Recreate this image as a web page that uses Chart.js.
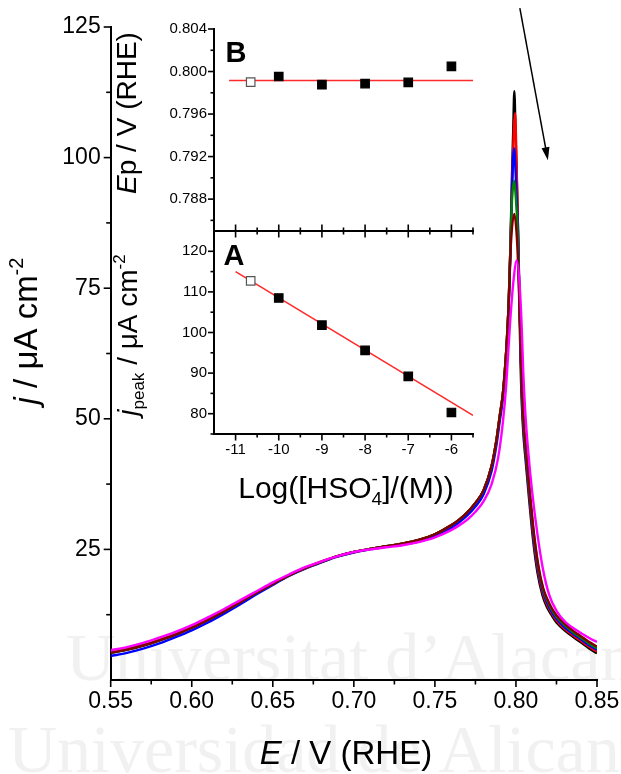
<!DOCTYPE html>
<html>
<head>
<meta charset="utf-8">
<script src="https://cdn.jsdelivr.net/npm/chart.js@4.4.1/dist/chart.umd.min.js"></script>
<style>
  html,body{margin:0;padding:0;background:#fff;}
  #wrap{position:relative;width:621px;height:774px;overflow:hidden;}
  #wrap canvas{position:absolute;left:0;top:0;}
</style>
</head>
<body>
<div id="wrap">
  <canvas id="cvMain" width="621" height="774"></canvas>
  <canvas id="cvB" width="621" height="774"></canvas>
  <canvas id="cvA" width="621" height="774"></canvas>
</div>
<script>
/* ================= DATA ================= */
// voltammograms [E / V (RHE), j / uA cm-2], one per HSO4- concentration
const cvBlack = [[0.55,5.2],[0.56,5.8],[0.57,6.6],[0.58,7.6],[0.59,8.7],[0.60,10.0],[0.61,11.5],[0.62,13.1],[0.63,14.9],[0.64,16.7],[0.65,18.4],[0.66,20.0],[0.67,21.4],[0.68,22.6],[0.69,23.7],[0.70,24.5],[0.71,25.1],[0.72,25.6],[0.73,26.1],[0.74,26.8],[0.75,27.9],[0.76,29.6],[0.765,30.7],[0.77,32.1],[0.775,33.9],[0.78,36.3],[0.785,41.0],[0.788,46.0],[0.790,50.5],[0.792,55.0],[0.794,63.0],[0.7955,72.0],[0.7965,82.0],[0.7975,96.0],[0.7983,105.0],[0.7990,112.7],[0.7998,104.0],[0.8006,95.0],[0.8013,86.0],[0.8020,74.0],[0.8028,61.0],[0.8036,53.0],[0.8046,47.0],[0.8060,42.0],[0.8080,35.0],[0.8105,27.0],[0.8133,20.5],[0.8163,16.3],[0.819,14.0],[0.822,12.4],[0.825,11.0],[0.830,9.5],[0.835,8.3],[0.840,7.2],[0.845,6.1],[0.850,5.1]];
const cvRed = [[0.55,5.3],[0.56,5.9],[0.57,6.7],[0.58,7.7],[0.59,8.8],[0.60,10.1],[0.61,11.6],[0.62,13.2],[0.63,15.0],[0.64,16.8],[0.65,18.5],[0.66,20.1],[0.67,21.5],[0.68,22.7],[0.69,23.7],[0.70,24.5],[0.71,25.1],[0.72,25.6],[0.73,26.1],[0.74,26.8],[0.75,27.9],[0.76,29.6],[0.765,30.7],[0.77,32.1],[0.775,33.9],[0.78,36.3],[0.785,41.0],[0.788,46.0],[0.790,50.5],[0.792,55.0],[0.794,63.0],[0.7955,72.0],[0.7965,82.0],[0.7978,97.0],[0.7995,108.5],[0.8003,100.0],[0.8010,90.0],[0.8017,80.0],[0.8024,70.0],[0.8030,61.5],[0.8038,53.5],[0.8048,47.5],[0.8062,42.5],[0.8082,35.5],[0.8107,27.5],[0.8135,21.0],[0.8165,16.7],[0.8192,14.4],[0.822,12.8],[0.825,11.4],[0.830,9.8],[0.835,8.6],[0.840,7.5],[0.845,6.4],[0.850,5.4]];
const cvBlue = [[0.55,4.6],[0.56,5.2],[0.57,6.0],[0.58,7.0],[0.59,8.2],[0.60,9.5],[0.61,11.0],[0.62,12.7],[0.63,14.5],[0.64,16.4],[0.65,18.2],[0.66,19.9],[0.67,21.3],[0.68,22.5],[0.69,23.6],[0.70,24.4],[0.71,25.0],[0.72,25.5],[0.73,25.9],[0.74,26.5],[0.75,27.5],[0.76,29.1],[0.765,30.2],[0.77,31.5],[0.775,33.2],[0.78,35.5],[0.785,40.0],[0.788,45.0],[0.790,49.5],[0.792,54.0],[0.794,62.0],[0.7955,71.0],[0.7965,81.0],[0.7978,96.0],[0.7988,101.8],[0.7998,97.0],[0.8006,91.0],[0.8014,84.0],[0.8022,73.0],[0.8030,62.0],[0.8038,54.0],[0.8048,48.0],[0.8062,43.0],[0.8083,35.7],[0.8108,27.8],[0.8137,21.2],[0.8167,16.9],[0.8194,14.7],[0.822,13.1],[0.825,11.7],[0.830,10.1],[0.835,8.9],[0.840,7.8],[0.845,6.7],[0.850,5.8]];
const cvGreen = [[0.55,5.2],[0.56,5.8],[0.57,6.6],[0.58,7.6],[0.59,8.7],[0.60,10.0],[0.61,11.5],[0.62,13.1],[0.63,14.9],[0.64,16.7],[0.65,18.4],[0.66,20.0],[0.67,21.4],[0.68,22.6],[0.69,23.7],[0.70,24.5],[0.71,25.1],[0.72,25.6],[0.73,26.1],[0.74,26.8],[0.75,27.9],[0.76,29.6],[0.765,30.7],[0.77,32.1],[0.775,33.9],[0.78,36.3],[0.785,41.0],[0.788,46.0],[0.790,50.5],[0.792,55.0],[0.794,63.0],[0.7955,72.0],[0.7965,82.0],[0.7976,92.0],[0.7989,95.6],[0.8000,92.0],[0.8009,87.0],[0.8016,80.0],[0.8023,71.0],[0.8031,62.0],[0.8039,54.5],[0.8049,48.5],[0.8063,43.5],[0.8084,36.2],[0.8109,28.3],[0.8138,21.6],[0.8168,17.3],[0.8195,15.1],[0.822,13.5],[0.825,12.1],[0.830,10.5],[0.835,9.2],[0.840,8.1],[0.845,7.0],[0.850,6.1]];
const cvWine = [[0.55,5.2],[0.56,5.8],[0.57,6.6],[0.58,7.6],[0.59,8.7],[0.60,10.0],[0.61,11.5],[0.62,13.1],[0.63,14.9],[0.64,16.7],[0.65,18.4],[0.66,20.0],[0.67,21.4],[0.68,22.6],[0.69,23.7],[0.70,24.5],[0.71,25.1],[0.72,25.6],[0.73,26.1],[0.74,26.8],[0.75,27.9],[0.76,29.6],[0.765,30.7],[0.77,32.1],[0.775,33.9],[0.78,36.3],[0.785,41.0],[0.788,46.0],[0.790,50.5],[0.792,55.0],[0.794,63.0],[0.7955,72.0],[0.7968,83.0],[0.7990,89.2],[0.8005,85.0],[0.8014,79.0],[0.8022,71.0],[0.8031,62.5],[0.8039,55.0],[0.8049,49.0],[0.8063,44.0],[0.8084,36.6],[0.8109,28.7],[0.8138,22.0],[0.8168,17.6],[0.8195,15.4],[0.822,13.8],[0.825,12.4],[0.830,10.8],[0.835,9.5],[0.840,8.4],[0.845,7.3],[0.850,6.4]];
const cvMagenta = [[0.55,5.7],[0.56,6.3],[0.57,7.1],[0.58,8.1],[0.59,9.2],[0.60,10.5],[0.61,12.0],[0.62,13.6],[0.63,15.3],[0.64,17.0],[0.65,18.7],[0.66,20.2],[0.67,21.6],[0.68,22.7],[0.69,23.7],[0.70,24.5],[0.71,25.0],[0.72,25.4],[0.73,25.8],[0.74,26.4],[0.75,27.3],[0.76,28.7],[0.765,29.6],[0.77,30.7],[0.775,32.2],[0.78,34.2],[0.785,37.5],[0.789,42.5],[0.792,49.5],[0.794,56.5],[0.7963,68.0],[0.7985,76.5],[0.8005,80.3],[0.8022,76.0],[0.8035,68.0],[0.8045,59.0],[0.8058,51.0],[0.8075,44.0],[0.8100,36.0],[0.8130,28.5],[0.8165,21.5],[0.8205,16.3],[0.8255,13.0],[0.8305,11.1],[0.836,9.8],[0.841,8.8],[0.846,7.9],[0.850,7.3]];

const cvCurves  = [cvBlack, cvRed, cvBlue, cvGreen, cvWine, cvMagenta];
const cvColors  = ['#000000', '#ff0000', '#0000ff', '#008000', '#800000', '#ff00ff'];

// main axis ticks
const mainXTicks = [0.55, 0.60, 0.65, 0.70, 0.75, 0.80, 0.85];
const mainXMinor = [0.575, 0.625, 0.675, 0.725, 0.775, 0.825];
const mainYTicks = [25, 50, 75, 100, 125];
const mainYMinor = [12.5, 37.5, 62.5, 87.5, 112.5];

// insets: log([HSO4-]/M), peak current (A) and peak potential (B)
const logConc = [-10.65, -10, -9, -8, -7, -6];
const jPeak   = [112.7, 108.5, 101.8, 95.6, 89.2, 80.3];
const ePeak   = [0.79900, 0.79953, 0.79876, 0.79886, 0.79898, 0.80049];
const jFit    = [[-11, 115.0], [-5.5, 79.6]];
const eFit    = [[-11.15, 0.79916], [-5.5, 0.79916]];

const insetXTicks = [-11, -10, -9, -8, -7, -6];
const insetXMinor = [-10.5, -9.5, -8.5, -7.5, -6.5, -5.5];
const bYTicks = [0.788, 0.792, 0.796, 0.800, 0.804];
const bYMinor = [0.786, 0.790, 0.794, 0.798, 0.802];
const aYTicks = [80, 90, 100, 110, 120];
const aYMinor = [75, 85, 95, 105, 115];

// arrow marking decreasing peak with concentration (data units)
const arrowFrom = [0.8024, 128.6];
const arrowTo   = [0.8197, 99.5];

/* ================= HELPERS ================= */
const FAM = '"Liberation Sans", Arial, Helvetica, sans-serif';
const xy = arr => arr.map(p => ({x: p[0], y: p[1]}));

// text with italic / sub / sup runs; x,y = centre of baseline
function richText(ctx, parts, x, y, size, angle){
  ctx.save();
  ctx.translate(x, y);
  if(angle) ctx.rotate(angle);
  ctx.fillStyle = '#000';
  ctx.textBaseline = 'alphabetic';
  ctx.textAlign = 'left';
  const fnt = p => (p.b?'bold ':'') + (p.i?'italic ':'') + ((p.sup||p.sub) ? Math.round(size*0.62) : size) + 'px ' + FAM;
  let w = 0;
  parts.forEach(p => { ctx.font = fnt(p); p.w = ctx.measureText(p.t).width; if(!p.stack) w += p.w; });
  let cx = -w/2, lastW = 0;
  parts.forEach(p => {
    ctx.font = fnt(p);
    const dy = p.sup ? -size*0.42 : p.sub ? size*0.24 : 0;
    const px = p.stack ? cx - lastW : cx;
    ctx.fillText(p.t, px, dy);
    if(!p.stack){ cx += p.w; lastW = p.w; }
  });
  ctx.restore();
}

// hand-drawn ticks: major + minor, out / cross
const tickMarks = {
  id: 'tickMarks',
  afterDraw(chart, args, opts){
    const ctx = chart.ctx, ca = chart.chartArea;
    ctx.save();
    ctx.strokeStyle = '#000';
    ctx.lineWidth = opts.width || 1.6;
    (opts.axes || []).forEach(a => {
      const s = chart.scales[a.id];
      const horiz = s.isHorizontal();
      const base = horiz ? ca.bottom : ca.left;
      const sign = horiz ? 1 : -1;
      const put = (v, len) => {
        const p = s.getPixelForValue(v);
        const e0 = a.cross ? -len : 0;
        ctx.beginPath();
        if(horiz){ ctx.moveTo(p, base + sign*e0); ctx.lineTo(p, base + sign*len); }
        else { ctx.moveTo(base + sign*e0, p); ctx.lineTo(base + sign*len, p); }
        ctx.stroke();
      };
      a.major.forEach(v => put(v, a.majorLen));
      a.minor.forEach(v => put(v, a.minorLen));
    });
    ctx.restore();
  }
};

const richTitles = {
  id: 'richTitles',
  afterDraw(chart, args, opts){
    (opts.items || []).forEach(it => richText(chart.ctx, it.parts, it.x, it.y, it.size, it.angle));
  }
};

const watermark = {
  id: 'watermark',
  beforeDraw(chart){
    const ctx = chart.ctx;
    ctx.save();
    ctx.fillStyle = '#f1f1f1';
    ctx.font = '68px "Liberation Serif", "Times New Roman", serif';
    ctx.textBaseline = 'alphabetic';
    ctx.fillText('Universitat d\u2019Alacant', 66, 680);
    ctx.fillText('Universidad de Alicante', 8, 772);
    ctx.restore();
  }
};

const arrowPlugin = {
  id: 'arrowMark',
  afterDraw(chart){
    const ctx = chart.ctx, sx = chart.scales.x, sy = chart.scales.y;
    const x0 = sx.getPixelForValue(arrowFrom[0]), y0 = sy.getPixelForValue(arrowFrom[1]);
    const x1 = sx.getPixelForValue(arrowTo[0]),   y1 = sy.getPixelForValue(arrowTo[1]);
    const ang = Math.atan2(y1-y0, x1-x0), hl = 13, hw = 4;
    ctx.save();
    ctx.strokeStyle = '#000'; ctx.fillStyle = '#000'; ctx.lineWidth = 1.5;
    ctx.beginPath(); ctx.moveTo(x0, y0);
    ctx.lineTo(x1 - Math.cos(ang)*hl*0.8, y1 - Math.sin(ang)*hl*0.8); ctx.stroke();
    ctx.beginPath();
    ctx.moveTo(x1, y1);
    ctx.lineTo(x1 - Math.cos(ang)*hl - Math.sin(ang)*hw, y1 - Math.sin(ang)*hl + Math.cos(ang)*hw);
    ctx.lineTo(x1 - Math.cos(ang)*hl + Math.sin(ang)*hw, y1 - Math.sin(ang)*hl - Math.cos(ang)*hw);
    ctx.closePath(); ctx.fill();
    ctx.restore();
  }
};

function setTicks(list){ return s => { s.ticks = list.map(v => ({value: v})); }; }
// fixed box size, and no extra side padding for end labels
function fixW(w){ return s => { s.width = w; s.paddingTop = 0; s.paddingBottom = 0; }; }
function fixH(h){ return s => { s.height = h; s.paddingLeft = 0; s.paddingRight = 0; }; }

/* ================= MAIN CHART ================= */
new Chart(document.getElementById('cvMain'), {
  type: 'line',
  data: {
    datasets: cvCurves.map((c, i) => ({
      data: xy(c), borderColor: cvColors[i], borderWidth: 2.4,
      pointRadius: 0, cubicInterpolationMode: 'monotone', order: cvCurves.length - i
    }))
  },
  options: {
    responsive: false, animation: false, devicePixelRatio: 1,
    layout: { padding: { left: 0, top: 27, right: 24, bottom: 0 } },
    plugins: {
      legend: { display: false }, tooltip: { enabled: false },
      tickMarks: { axes: [
        { id: 'x', major: mainXTicks, minor: mainXMinor, majorLen: 7, minorLen: 4.5 },
        { id: 'y', major: mainYTicks, minor: mainYMinor, majorLen: 7, minorLen: 4.5 } ] },
      richTitles: { items: [
        { parts: [{t:'j', i:true}, {t:' / \u03BCA cm'}, {t:'-2', sup:true}], x: 37, y: 331, size: 33, angle: -Math.PI/2 },
        { parts: [{t:'E', i:true}, {t:' / V (RHE)'}], x: 346, y: 764, size: 33 } ] }
    },
    scales: {
      x: { type: 'linear', min: 0.55, max: 0.85,
           afterBuildTicks: setTicks(mainXTicks), afterFit: fixH(94),
           grid: { display: false, drawTicks: false }, border: { display: true, color: '#000', width: 2 },
           ticks: { color: '#000', padding: 8, font: { family: FAM, size: 23 }, callback: v => v.toFixed(2) } },
      y: { type: 'linear', min: 0, max: 125,
           afterBuildTicks: setTicks(mainYTicks), afterFit: fixW(110.7),
           grid: { display: false, drawTicks: false }, border: { display: true, color: '#000', width: 2 },
           ticks: { color: '#000', padding: 10, font: { family: FAM, size: 23 }, callback: v => String(v) } }
    }
  },
  plugins: [watermark, tickMarks, richTitles, arrowPlugin]
});

/* ================= INSETS ================= */
const markerFill   = logConc.map((v, i) => i === 0 ? '#ffffff' : '#000000');
const markerBorder = logConc.map((v, i) => i === 0 ? '#555555' : '#000000');

function insetDatasets(fit, vals){
  return [
    { data: logConc.map((v, i) => ({x: v, y: vals[i]})), showLine: false, pointStyle: 'rect', pointRadius: 6,
      pointBackgroundColor: markerFill, pointBorderColor: markerBorder, pointBorderWidth: 1.2, order: 0 },
    { data: xy(fit), showLine: true, borderColor: '#ff2a2a', borderWidth: 1.6, pointRadius: 0, order: 1 }
  ];
}

// B: peak potential
new Chart(document.getElementById('cvB'), {
  type: 'scatter',
  data: { datasets: insetDatasets(eFit, ePeak) },
  options: {
    responsive: false, animation: false, devicePixelRatio: 1,
    layout: { padding: { left: 0, top: 29, right: 148, bottom: 0 } },
    plugins: {
      legend: { display: false }, tooltip: { enabled: false },
      tickMarks: { axes: [
        { id: 'x', major: insetXTicks, minor: insetXMinor, majorLen: 6.5, minorLen: 3.5, cross: true },
        { id: 'y', major: bYTicks, minor: bYMinor, majorLen: 6, minorLen: 3.5 } ] },
      richTitles: { items: [
        { parts: [{t:'E', i:true}, {t:'p / V (RHE)'}], x: 136, y: 113, size: 28, angle: -Math.PI/2 },
        { parts: [{t:'B', b:true}], x: 236, y: 62, size: 29 } ] }
    },
    scales: {
      x: { type: 'linear', min: -11.5, max: -5.5, afterFit: fixH(774 - 231),
           grid: { display: false, drawTicks: false }, border: { display: true, color: '#000', width: 2 },
           ticks: { display: false } },
      y: { type: 'linear', min: 0.785, max: 0.804,
           afterBuildTicks: setTicks(bYTicks), afterFit: fixW(214),
           grid: { display: false, drawTicks: false }, border: { display: true, color: '#000', width: 2 },
           ticks: { color: '#000', padding: 7, font: { family: FAM, size: 15 }, callback: v => v.toFixed(3) } }
    }
  },
  plugins: [tickMarks, richTitles]
});

// A: peak current density
new Chart(document.getElementById('cvA'), {
  type: 'scatter',
  data: { datasets: insetDatasets(jFit, jPeak) },
  options: {
    responsive: false, animation: false, devicePixelRatio: 1,
    layout: { padding: { left: 0, top: 231, right: 148, bottom: 0 } },
    plugins: {
      legend: { display: false }, tooltip: { enabled: false },
      tickMarks: { axes: [
        { id: 'x', major: insetXTicks, minor: insetXMinor, majorLen: 6.5, minorLen: 3.5 },
        { id: 'y', major: aYTicks, minor: aYMinor, majorLen: 6, minorLen: 3.5 } ] },
      richTitles: { items: [
        { parts: [{t:'j', i:true}, {t:'peak', sub:true}, {t:' / \u03BCA cm'}, {t:'-2', sup:true}], x: 137, y: 335, size: 28, angle: -Math.PI/2 },
        { parts: [{t:'A', b:true}], x: 234, y: 265, size: 29 },
        { parts: [{t:'Log([HSO'}, {t:'4', sub:true}, {t:'-', sup:true, stack:true}, {t:']/(M))'}], x: 346, y: 498, size: 30 } ] }
    },
    scales: {
      x: { type: 'linear', min: -11.5, max: -5.5,
           afterBuildTicks: setTicks(insetXTicks), afterFit: fixH(774 - 434),
           grid: { display: false, drawTicks: false }, border: { display: true, color: '#000', width: 2 },
           ticks: { color: '#000', padding: 7, font: { family: FAM, size: 15 }, callback: v => String(v) } },
      y: { type: 'linear', min: 75, max: 125,
           afterBuildTicks: setTicks(aYTicks), afterFit: fixW(214),
           grid: { display: false, drawTicks: false }, border: { display: true, color: '#000', width: 2 },
           ticks: { color: '#000', padding: 7, font: { family: FAM, size: 15 }, callback: v => String(v) } }
    }
  },
  plugins: [tickMarks, richTitles]
});
</script>
</body>
</html>
